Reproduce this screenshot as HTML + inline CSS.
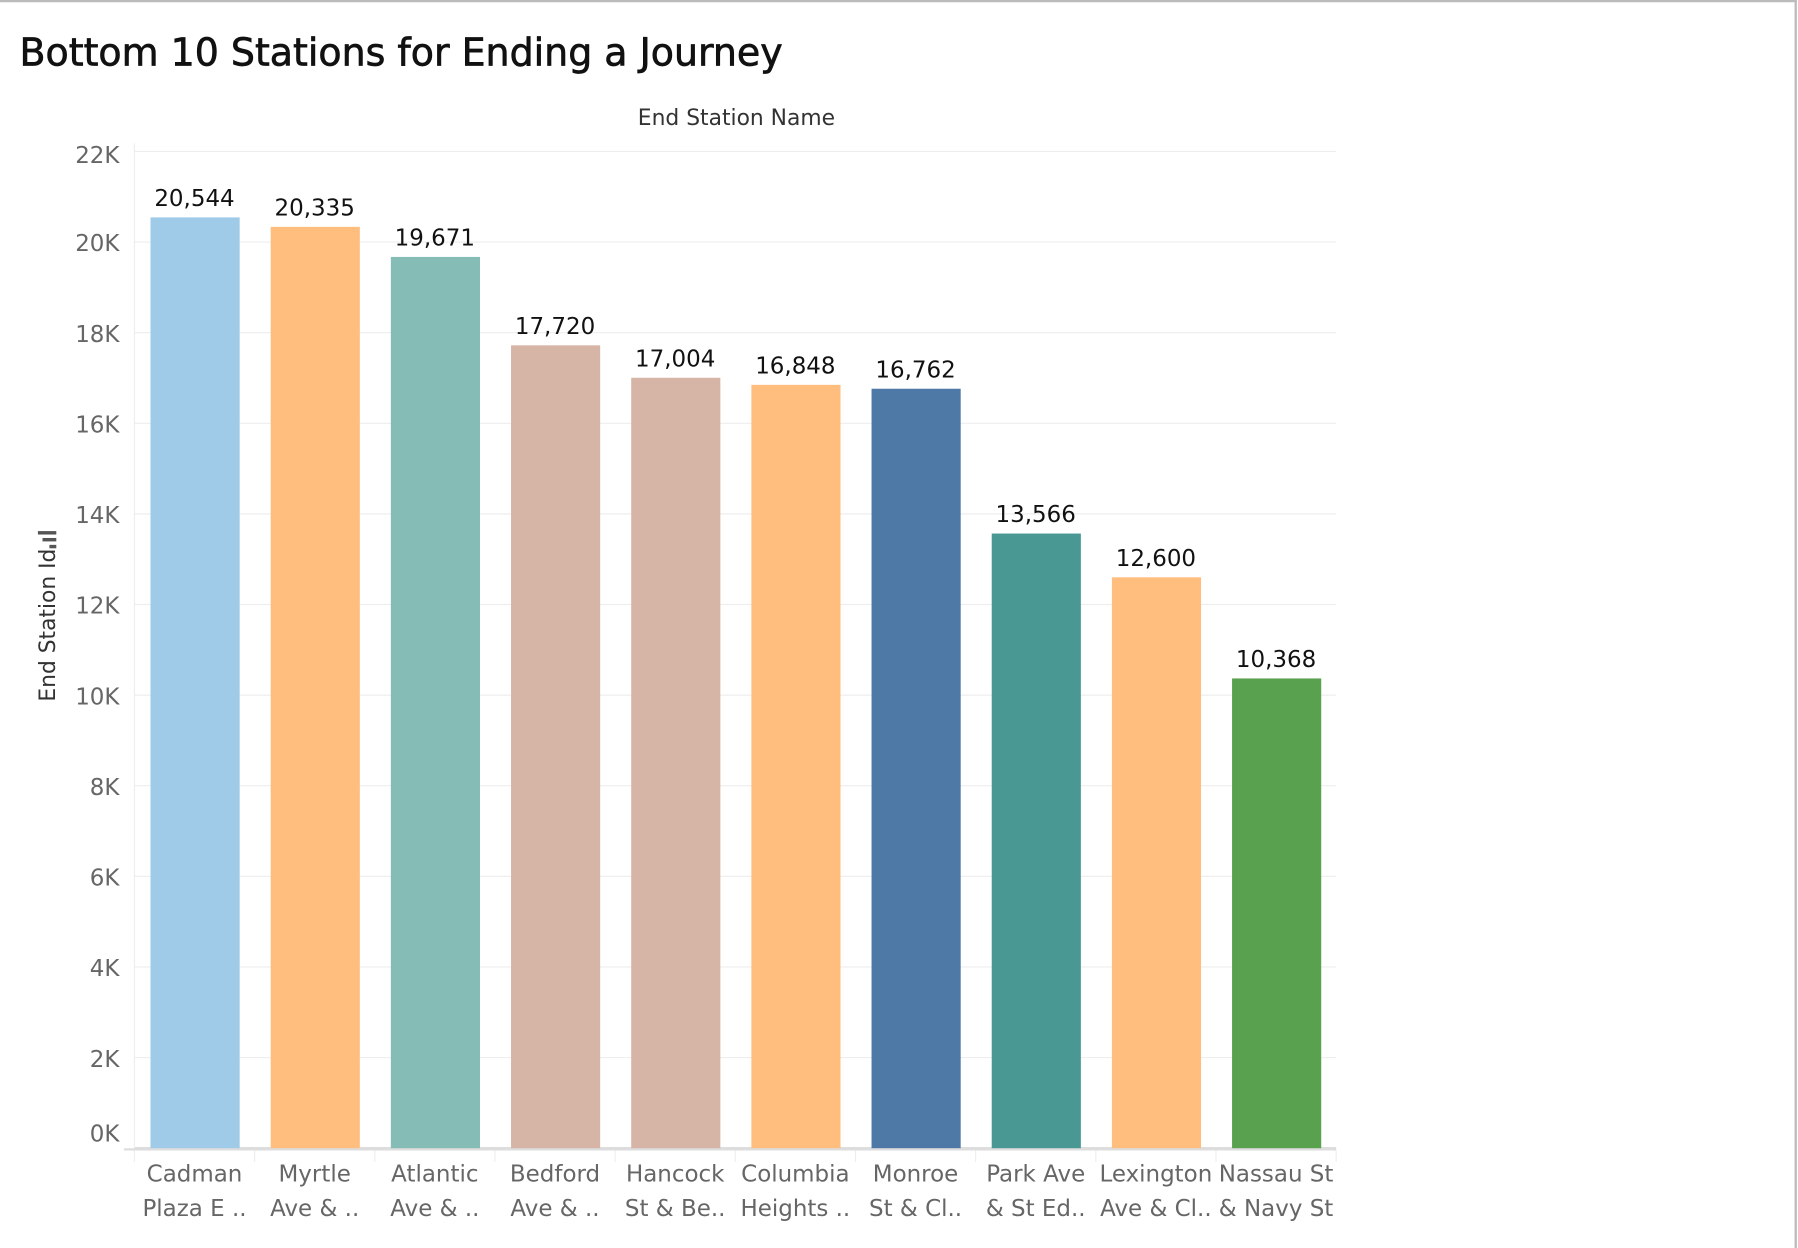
<!DOCTYPE html>
<html><head><meta charset="utf-8"><style>
html,body{margin:0;padding:0;background:#fff;}
svg{display:block;font-family:"DejaVu Sans","Liberation Sans",sans-serif;}
</style></head><body>
<svg id="chart" width="1798" height="1248" viewBox="0 0 1565 1088" preserveAspectRatio="none">
<line x1="0" y1="1" x2="1564" y2="1" stroke="#bbb" stroke-width="2"/>
<line x1="1563" y1="0" x2="1563" y2="1088" stroke="#bbb" stroke-width="2"/>
<text x="17" y="57" font-size="33" fill="#111" stroke="#111" stroke-width="0.6">Bottom 10 Stations for Ending a Journey</text>
<text x="641" y="109" font-size="19" fill="#333" text-anchor="middle">End Station Name</text>
<text transform="translate(48,545) rotate(-90)" font-size="19" fill="#333" text-anchor="middle">End Station Id</text>
<g fill="#555">
<rect x="33" y="463" width="16" height="3"/><rect x="37" y="469" width="12" height="3"/><rect x="43" y="475" width="6" height="3"/>
</g>
<g id="grid"></g><g id="bars"></g><g id="labels"></g>
</svg>
<script>
const categories1 = ["Cadman","Myrtle","Atlantic","Bedford","Hancock","Columbia","Monroe","Park Ave","Lexington","Nassau St"];
const categories2 = ["Plaza E ..","Ave & ..","Ave & ..","Ave & ..","St & Be..","Heights ..","St & Cl..","& St Ed..","Ave & Cl..","& Navy St"];
const values = [20544,20335,19671,17720,17004,16848,16762,13566,12600,10368];
const colors = ["#A0CBE8","#FFBE7D","#86BCB6","#D7B5A6","#D7B5A6","#FFBE7D","#4E79A7","#499894","#FFBE7D","#59A14F"];
const ticks = [0,2000,4000,6000,8000,10000,12000,14000,16000,18000,20000,22000];
const NS="http://www.w3.org/2000/svg";
const x0=117,x1=1163,y0=1001,y1=132,ymax=22000;
const band=(x1-x0)/values.length;
const y=v=>y0-(v/ymax)*(y0-y1);
const xb=i=>x0+i*band;
function mk(tag,attrs,parent,text){const e=document.createElementNS(NS,tag);for(const k in attrs)e.setAttribute(k,attrs[k]);if(text!==undefined)e.textContent=text;parent.appendChild(e);return e;}
const grid=document.getElementById('grid'),bars=document.getElementById('bars'),labels=document.getElementById('labels');
ticks.forEach(t=>{
  const l=mk('line',{x1:x0,x2:x1,y1:y(t),y2:y(t),stroke:t===0?'#ddd':'#eee','stroke-width':t===0?2:1},grid);
  
  
  const off=t===0?-6:(t===ymax?10:8);
  const tl=mk('text',{x:104,y:y(t)+off,'font-size':20,fill:'#666','text-anchor':'end'},grid,(t/1000)+'K');
  
  
});
const ax=mk('line',{x1:x0,x2:x0,y1:125,y2:y0,stroke:'#eee'},grid);


const bx=mk('line',{x1:108,x2:x1,y1:y0+1,y2:y0+1,stroke:'#ddd','stroke-width':2},grid);


for(let i=0;i<=values.length;i++){
  const s=mk('line',{x1:xb(i),x2:xb(i),y1:y0+2,y2:y0+12,stroke:'#eee'},grid);
  
  
}
values.forEach((v,i)=>{
  const r=mk('rect',{x:xb(i)+14,y:y(v),width:band-27,height:y0-y(v),fill:colors[i]},bars);
  
  
  const cx=xb(i)+band/2;
  const vl=mk('text',{x:cx,y:y(v)-10,'font-size':20,fill:'#111','text-anchor':'middle'},labels,v.toLocaleString('en-US'));
  
  
  const a=mk('text',{x:cx,y:1030,'font-size':20,fill:'#666','text-anchor':'middle'},labels,categories1[i]);
  
  
  const b=mk('text',{x:cx,y:1060,'font-size':20,fill:'#666','text-anchor':'middle'},labels,categories2[i]);
  
  
});
</script>
</body></html>
